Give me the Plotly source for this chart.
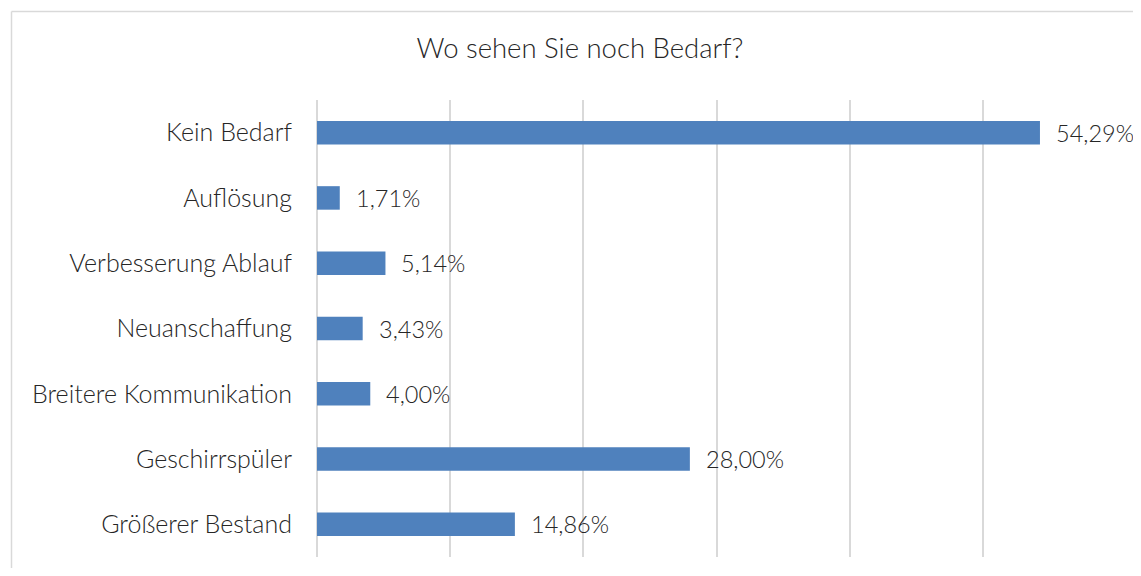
import plotly.graph_objects as go

categories = ["Kein Bedarf", "Auflösung", "Verbesserung Ablauf", "Neuanschaffung",
              "Breitere Kommunikation", "Geschirrspüler", "Größerer Bestand"]
values = [54.29, 1.71, 5.14, 3.43, 4.00, 28.00, 14.86]
value_labels = ["54,29%", "1,71%", "5,14%", "3,43%", "4,00%", "28,00%", "14,86%"]
title_text = "Wo sehen Sie noch Bedarf?"

# page has an 8px body margin, so work in page pixels and subtract it
OFF = 8
W, H = 1141 - 2 * OFF, 576 - 2 * OFF
PL, PR, PT, PB = 317, 1116, 100, 557  # plot area in page pixels
L, R, T, B = PL - OFF, (W + OFF) - PR, PT - OFF, (H + OFF) - PB
FONT = "Lato"
WEIGHT = 300
TXT = "#262626"

fig = go.Figure(go.Bar(
    x=values, y=categories, orientation="h",
    marker=dict(color="#4F81BD", line=dict(width=0)),
    hoverinfo="skip",
))

for v, c, t in zip(values, categories, value_labels):
    fig.add_annotation(x=v, y=c, text=t, showarrow=False, xanchor="left",
                       xshift=14, font=dict(family=FONT, size=23.5, color=TXT, weight=WEIGHT))

pw = PR - PL
ph = PB - PT
def px_x(p):
    return (p - PL) / pw
def px_y(p):
    return (PB - p) / ph

# chart-area border (top and left visible)
fig.add_shape(type="line", xref="paper", yref="paper",
              x0=px_x(11.5), x1=px_x(1160), y0=px_y(11.5), y1=px_y(11.5),
              line=dict(color="#d9d9d9", width=1.5))
fig.add_shape(type="line", xref="paper", yref="paper",
              x0=px_x(11.5), x1=px_x(11.5), y0=px_y(11.5), y1=px_y(600),
              line=dict(color="#d9d9d9", width=1.5))

fig.update_layout(
    width=W, height=H,
    margin=dict(l=L, r=R, t=T, b=B, autoexpand=False),
    paper_bgcolor="white", plot_bgcolor="white",
    showlegend=False,
    bargap=0.64,
    title=dict(text=title_text, x=(580 - OFF) / W, xanchor="center", xref="container",
               y=1 - (48 - OFF) / H, yanchor="middle", yref="container",
               font=dict(family=FONT, size=27.5, color=TXT, weight=WEIGHT)),
    xaxis=dict(range=[0, 60], dtick=10, showticklabels=False, showgrid=True,
               gridcolor="#d9d9d9", gridwidth=1.5, zeroline=True,
               zerolinecolor="#d9d9d9", zerolinewidth=1.5, showline=False, fixedrange=True),
    yaxis=dict(autorange="reversed", showgrid=False, zeroline=False, showline=False,
               ticks="", ticklabelstandoff=24,
               tickfont=dict(family=FONT, size=25, color=TXT, weight=WEIGHT)),
    font=dict(family=FONT, color=TXT),
)

fig.write_html("out.html")
